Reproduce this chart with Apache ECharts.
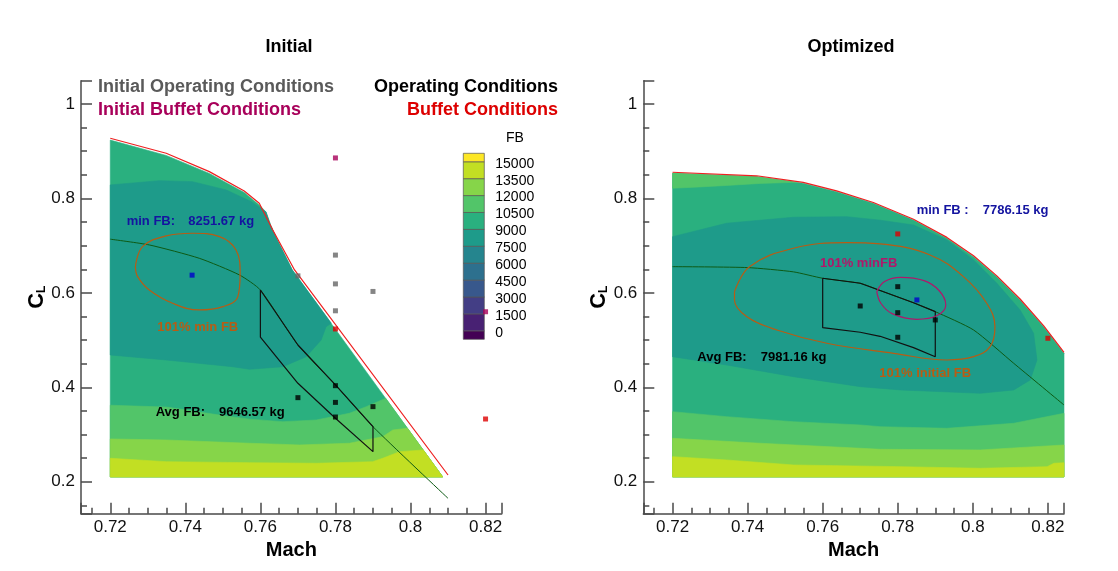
<!DOCTYPE html>
<html><head><meta charset="utf-8">
<script src="https://cdn.jsdelivr.net/npm/echarts@6/dist/echarts.min.js"></script>
<style>html,body{margin:0;padding:0;background:#fff}#c{width:1118px;height:571px}</style>
</head><body><div id="c"></div>
<script>
const FF = "'Liberation Sans', Arial, Helvetica, sans-serif";

// ---- colour levels (FB, kg) ----
const levels = [0,1500,3000,4500,6000,7500,9000,10500,12000,13500,15000];
const levelColors = ['#440154','#482173','#433e85','#38588c','#2d708e','#25858e','#1e9b8a','#2ab07f','#52c569','#86d549','#c2df23','#fde725'];

// ---- Initial plot (Mach, CL) ----
const initEdge = [[0.72,0.9236],[0.7349,0.8911],[0.7464,0.853],[0.7557,0.8127],[0.7597,0.7862],[0.7615,0.7714],[0.7627,0.7439],[0.7645,0.7121],[0.7685,0.6485],[0.8086,0.21]];
const initBuffetLine = [[0.72,0.9275],[0.7349,0.8958],[0.7464,0.8568],[0.7557,0.8159],[0.7597,0.7898],[0.7633,0.7333],[0.7691,0.6485],[0.81,0.2142]];
const initTealTop = [[0.72,0.8286],[0.7331,0.8377],[0.7419,0.8356],[0.7509,0.818],[0.7575,0.7935],[0.7615,0.7714]];
const initTealBottom = [[0.72,0.4684],[0.7349,0.4578],[0.7526,0.4436],[0.7571,0.4381],[0.766,0.4436],[0.7722,0.4648],[0.7762,0.5002],[0.7775,0.5284],[0.7789,0.5356]];
const initGreenTop = [[0.72,0.362],[0.735,0.358],[0.75,0.340],[0.7571,0.3325],[0.766,0.3271],[0.7749,0.3307],[0.7837,0.3449],[0.7882,0.3589],[0.7934,0.3767]];
const initLightTop = [[0.72,0.2905],[0.7349,0.2883],[0.7571,0.2814],[0.7704,0.2778],[0.7837,0.2814],[0.7926,0.2953],[0.7953,0.3095],[0.7992,0.3131]];
const initYellowTop = [[0.72,0.2496],[0.7349,0.2424],[0.7571,0.2403],[0.7749,0.239],[0.7899,0.2424],[0.7926,0.2496],[0.7971,0.2636],[0.8034,0.2672]];
const initGreenLine = [[0.72,0.7137],[0.7304,0.7015],[0.7437,0.6733],[0.7544,0.638],[0.76,0.6061],[0.77,0.4896],[0.78,0.4049],[0.79,0.3165],[0.81,0.1648]];
const initQuad = [[0.76,0.6061],[0.77,0.4896],[0.78,0.4049],[0.79,0.3165],[0.79,0.2636],[0.78,0.3343],[0.77,0.4085],[0.76,0.5061],[0.76,0.6061]];
const initMinContour = [[0.7267,0.6555],[0.7286,0.6979],[0.7349,0.7206],[0.7419,0.7263],[0.7491,0.7191],[0.7535,0.6909],[0.7546,0.6415],[0.754,0.5919],[0.75,0.5708],[0.7437,0.5638],[0.7366,0.578],[0.7304,0.6061],[0.7273,0.6343],[0.7267,0.6555]];
const initOpPts = [[0.77,0.378],[0.78,0.4034],[0.78,0.368],[0.78,0.337],[0.79,0.359]];
const initOldOpPts = [[0.77,0.636],[0.78,0.68],[0.78,0.619],[0.78,0.562],[0.79,0.603]];
const initBuffetPts = [[0.78,0.5235],[0.82,0.3328]];
const initOldBuffetPts = [[0.78,0.8858],[0.82,0.56]];
const initMinPt = [[0.7418,0.6375]];

// ---- Optimized plot (Mach, CL) ----
const optEdge = [[0.72,0.8534],[0.7424,0.8462],[0.7548,0.8322],[0.7637,0.8144],[0.7735,0.7898],[0.7842,0.7541],[0.7931,0.7157],[0.8002,0.6767],[0.8064,0.6343],[0.8126,0.585],[0.8189,0.5284],[0.8243,0.472]];
const optBuffetLine = [[0.72,0.8555],[0.7424,0.848],[0.7548,0.834],[0.7637,0.816],[0.7735,0.7915],[0.7842,0.756],[0.7931,0.7175],[0.8002,0.6785],[0.8064,0.636],[0.8126,0.587],[0.8189,0.530],[0.8243,0.474]];
const optStripBottom = [[0.72,0.8216],[0.7273,0.8244],[0.7344,0.8275],[0.7433,0.8318],[0.753,0.8342]];
const optTealTop = [[0.72,0.719],[0.7344,0.7475],[0.7522,0.7602],[0.7664,0.7614],[0.7753,0.754],[0.7842,0.7438],[0.7931,0.7121],[0.8002,0.6697],[0.8064,0.6203],[0.8126,0.5638],[0.8162,0.5144],[0.8171,0.4578],[0.8153,0.4155],[0.8109,0.3943],[0.802,0.3873]];
const optTealBottom = [[0.72,0.4648],[0.7344,0.4472],[0.7522,0.4225],[0.7701,0.4013],[0.7808,0.3943]];
const optGreenTop = [[0.72,0.3483],[0.7344,0.3377],[0.7522,0.3271],[0.7701,0.3201],[0.7753,0.3165],[0.7931,0.3131],[0.8109,0.3237],[0.8243,0.3449]];
const optLightTop = [[0.72,0.2919],[0.7433,0.2814],[0.7701,0.2708],[0.7753,0.2686],[0.802,0.2672],[0.8243,0.2778]];
const optYellowTop = [[0.72,0.253],[0.7344,0.246],[0.7522,0.2354],[0.7808,0.2318],[0.802,0.2284],[0.8198,0.2318],[0.8216,0.239],[0.8243,0.2403]];
const optGreenLine = [[0.72,0.6555],[0.74,0.6535],[0.7522,0.6445],[0.76,0.6309],[0.77,0.6203],[0.7753,0.605],[0.7842,0.579],[0.79,0.5602],[0.8002,0.5214],[0.8109,0.4508],[0.8243,0.3625]];
const optQuad = [[0.76,0.6309],[0.77,0.6203],[0.7753,0.605],[0.7842,0.579],[0.79,0.5602],[0.79,0.4648],[0.7842,0.484],[0.7753,0.508],[0.77,0.5165],[0.76,0.5263],[0.76,0.6309]];
const optInitContour = [[0.7365,0.6025],[0.7405,0.6555],[0.7522,0.6945],[0.7664,0.7064],[0.7753,0.7036],[0.7886,0.6803],[0.7975,0.6343],[0.8037,0.578],[0.8059,0.5284],[0.8046,0.486],[0.8002,0.4648],[0.7931,0.4578],[0.7789,0.472],[0.7611,0.4932],[0.7478,0.5214],[0.7398,0.5496],[0.7365,0.585],[0.7365,0.6025]];
const optMinContour = [[0.7744,0.6025],[0.7765,0.624],[0.7808,0.633],[0.787,0.626],[0.791,0.605],[0.7928,0.5744],[0.7905,0.552],[0.7851,0.544],[0.7785,0.556],[0.7755,0.578],[0.7744,0.6025]];
const optOpPts = [[0.77,0.5722],[0.78,0.6131],[0.78,0.558],[0.78,0.5059],[0.79,0.5426]];
const optBuffetPts = [[0.78,0.7248],[0.82,0.5038]];
const optMinPt = [[0.7851,0.585]];

const X_MIN = 0.7122, X_MAX = 0.8243, Y_MIN = 0.1322, Y_MAX = 1.0494, CL_BOTTOM = 0.21;

// ---- polygon construction helpers ----
function bandBelow(top, edge, color) {
  const endCL = top[top.length-1][1];
  const pts = top.slice();
  edge.forEach(p => { if (p[1] < endCL - 1e-6) pts.push(p); });
  const last = pts[pts.length-1];
  if (last[1] > CL_BOTTOM + 1e-6) pts.push([last[0], CL_BOTTOM]);
  pts.push([top[0][0], CL_BOTTOM]);
  return {pts, color};
}
function blobOnEdge(top, bottom, edge, color) {
  const a = top[top.length-1][1], b = bottom[bottom.length-1][1];
  const pts = top.slice();
  edge.forEach(p => { if (p[1] < a - 1e-6 && p[1] > b + 1e-6) pts.push(p); });
  return {pts: pts.concat(bottom.slice().reverse()), color};
}
const C = levelColors;
const initPolys = [
  {pts: [[0.72, CL_BOTTOM]].concat(initEdge), color: C[7]},
  blobOnEdge(initTealTop, initTealBottom, initEdge, C[6]),
  bandBelow(initGreenTop, initEdge, C[8]),
  bandBelow(initLightTop, initEdge, C[9]),
  bandBelow(initYellowTop, initEdge, C[10])
];
const optRightEdge = optEdge.concat([[optEdge[optEdge.length-1][0], CL_BOTTOM]]);
const optPolys = [
  {pts: [[0.72, CL_BOTTOM]].concat(optRightEdge), color: C[7]},
  {pts: optEdge.slice(0,2).concat(optStripBottom.slice().reverse()), color: C[8]},
  {pts: optTealTop.concat(optTealBottom.slice().reverse()), color: C[6]},
  bandBelow(optGreenTop, optRightEdge, C[8]),
  bandBelow(optLightTop, optRightEdge, C[9]),
  bandBelow(optYellowTop, optRightEdge, C[10])
];

function polySeries(gi, polys) {
  return {type:'custom', xAxisIndex:gi, yAxisIndex:gi, silent:true, z:1, animation:false,
    data: polys.map(p => p.pts[0]),
    renderItem: (params, api) => {
      const p = polys[params.dataIndex];
      return {type:'polygon', z2: params.dataIndex, shape:{points: p.pts.map(v => api.coord(v))},
        style:{fill:p.color, stroke:p.color, lineWidth:0.6}};
    }};
}
function lineS(gi, data, color, width, smooth, z) {
  return {type:'line', xAxisIndex:gi, yAxisIndex:gi, data, showSymbol:false, symbol:'none', silent:true,
    smooth: smooth || false, lineStyle:{color, width}, z: z || 3, animation:false};
}
function ptS(gi, data, color) {
  return {type:'scatter', xAxisIndex:gi, yAxisIndex:gi, data, symbol:'rect', symbolSize:5, silent:true,
    itemStyle:{color}, z:6, animation:false};
}

const AX = '#4a4a4a';
function xAx(gi) {
  return {gridIndex:gi, type:'value', min:X_MIN, max:X_MAX, name:'Mach', nameLocation:'middle', nameGap:20,
    nameTextStyle:{fontSize:20, fontWeight:'bold', color:'#000', fontFamily:FF},
    axisLine:{onZero:false, lineStyle:{color:AX, width:1.5}},
    axisTick:{inside:true, length:11, lineStyle:{color:AX, width:1.5}},
    minorTick:{show:true, splitNumber:4, length:6, lineStyle:{color:AX, width:1.5}},
    axisLabel:{fontSize:17, color:'#111', margin:5, fontFamily:FF, showMinLabel:false, showMaxLabel:false},
    splitLine:{show:false}, minorSplitLine:{show:false}};
}
function yAx(gi) {
  return {gridIndex:gi, type:'value', min:Y_MIN, max:Y_MAX, name:'{c|C}{l|L}', nameLocation:'middle', nameGap:32, nameRotate:90,
    nameTextStyle:{rich:{c:{fontSize:22, fontWeight:'bold', color:'#000', fontFamily:FF},
                         l:{fontSize:12, fontWeight:'bold', color:'#000', fontFamily:FF, verticalAlign:'bottom'}}},
    axisLine:{onZero:false, lineStyle:{color:AX, width:1.5}},
    axisTick:{inside:true, length:11, lineStyle:{color:AX, width:1.5}},
    minorTick:{show:true, splitNumber:4, length:6, lineStyle:{color:AX, width:1.5}},
    axisLabel:{fontSize:17, color:'#111', margin:6, fontFamily:FF, showMinLabel:false, showMaxLabel:false},
    splitLine:{show:false}, minorSplitLine:{show:false}};
}

// colour bar
const HALF = 750;
const cbBands = levelColors.map((c,i) => ({
  lo: i === 0 ? levels[0] - HALF : levels[i-1],
  hi: i === levelColors.length-1 ? levels[levels.length-1] + HALF : levels[i], color: c}));

function T(text, x, y, size, color, align, weight) {
  return {type:'text', x, y, silent:true, z:100,
    style:{text, fill:color, font:(weight||'bold')+' '+size+'px '+FF, align:align||'left', verticalAlign:'middle'}};
}
const BLUE = '#1414a0', BROWN = '#b85c14', MAG = '#a8005a', RED = '#dd0000', GRAY = '#5a5a5a';

const option = {
  backgroundColor:'#fff', animation:false,
  grid:[
    {left:81, top:80.7, width:420.7, height:433},
    {left:643.3, top:80.7, width:420.7, height:433},
    {left:463.3, top:153.3, width:21, height:186}
  ],
  xAxis:[xAx(0), xAx(1), {gridIndex:2, type:'value', min:0, max:1, show:false}],
  yAxis:[yAx(0), yAx(1), {gridIndex:2, type:'value', min:levels[0]-HALF, max:levels[levels.length-1]+HALF, show:false}],
  series:[
    polySeries(0, initPolys),
    lineS(0, initBuffetLine, '#ee2020', 1.2),
    lineS(0, initGreenLine, '#0d5a14', 1, 0.2),
    lineS(0, initQuad, '#111', 1.2),
    lineS(0, initMinContour, BROWN, 1.2, 0.4),
    ptS(0, initOldOpPts, '#666'),
    ptS(0, initOpPts, '#000'),
    ptS(0, initBuffetPts, RED),
    ptS(0, initOldBuffetPts, MAG),
    ptS(0, initMinPt, '#0000cc'),
    polySeries(1, optPolys),
    lineS(1, optBuffetLine, '#ee2020', 1.2),
    lineS(1, optGreenLine, '#0d5a14', 1, 0.2),
    lineS(1, optQuad, '#111', 1.2),
    lineS(1, optInitContour, BROWN, 1.2, 0.4),
    lineS(1, optMinContour, '#b0186a', 1.2, 0.4),
    ptS(1, optOpPts, '#000'),
    ptS(1, optBuffetPts, RED),
    ptS(1, optMinPt, '#0000cc'),
    {type:'custom', xAxisIndex:2, yAxisIndex:2, silent:true, animation:false,
      data: cbBands.map(b => [0, b.lo]),
      renderItem:(p, api) => {
        const b = cbBands[p.dataIndex];
        const a = api.coord([0, b.hi]), c = api.coord([1, b.lo]);
        return {type:'rect', shape:{x:a[0], y:a[1], width:c[0]-a[0], height:c[1]-a[1]},
          style:{fill:b.color, stroke:'#555', lineWidth:0.7}};
      }},
    {type:'custom', xAxisIndex:2, yAxisIndex:2, silent:true, animation:false,
      data: levels.map(v => [1, v]),
      renderItem:(p, api) => {
        const v = levels[p.dataIndex];
        const pt = api.coord([1, v]);
        return {type:'text', x: pt[0] + 11, y: pt[1] + 2,
          style:{text:String(v), fill:'#000', font:'14px '+FF, align:'left', verticalAlign:'middle'}};
      }}
  ],
  graphic:[
    T('Initial', 289, 47, 18, '#000', 'center'),
    T('Optimized', 851, 47, 18, '#000', 'center'),
    T('Initial Operating Conditions', 98, 87.5, 18, GRAY),
    T('Initial Buffet Conditions', 98, 110, 18, MAG),
    T('Operating Conditions', 558, 87.5, 18, '#000', 'right'),
    T('Buffet Conditions', 558, 110, 18, RED, 'right'),
    T('FB', 515, 138, 14, '#000', 'center', 'normal'),
    T('min FB:', 126.7, 221, 13, BLUE), T('8251.67 kg', 188.3, 221, 13, BLUE),
    T('101% min FB', 157.3, 327.3, 13, BROWN),
    T('Avg FB:', 155.7, 412.7, 13, '#000'), T('9646.57 kg', 219, 412.7, 13, '#000'),
    T('min FB :', 916.7, 210.7, 13, BLUE), T('7786.15 kg', 982.7, 210.7, 13, BLUE),
    T('101% minFB', 820, 263.3, 13, '#b0186a'),
    T('Avg FB:', 697.3, 357.7, 13, '#000'), T('7981.16 kg', 760.7, 357.7, 13, '#000'),
    T('101% initial FB', 879.3, 373.3, 13, BROWN)
  ]
};
const chart = echarts.init(document.getElementById('c'), null, {renderer:'canvas'});
chart.setOption(option);
</script></body></html>
